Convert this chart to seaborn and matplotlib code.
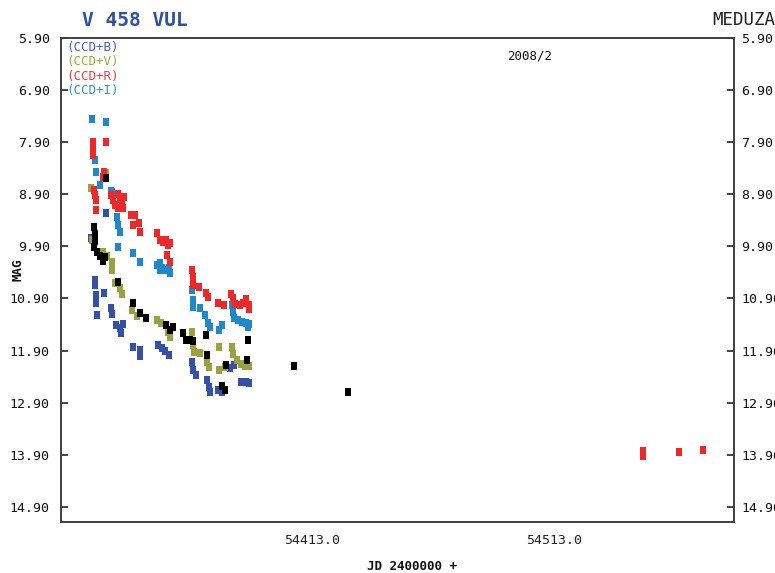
import matplotlib
matplotlib.use("Agg")
import matplotlib.pyplot as plt
import matplotlib.transforms as mtransforms
import numpy as np
import pandas as pd
import seaborn as sns

# V 458 Vul photometry (JD, magnitude) by filter
jd_b = [54332.8, 54326.6, 54328.2, 54328.2, 54328.7, 54328.7, 54332.0, 54329.1,
        54334.9, 54335.3, 54336.9, 54338.6, 54339.8, 54339.0, 54344.0, 54346.8,
        54346.8, 54354.3, 54355.9, 54357.2, 54358.8, 54368.3, 54368.7, 54370.0,
        54374.5, 54375.4, 54375.8, 54379.1, 54380.7, 54384.0, 54385.7, 54388.6,
        54390.6, 54391.9]
mag_b = [9.26, 9.74, 10.54, 10.64, 10.83, 10.99, 10.79, 11.22,
         11.08, 11.20, 11.41, 11.47, 11.39, 11.56, 11.83, 11.89,
         12.00, 11.79, 11.85, 11.91, 11.98, 12.12, 12.27, 12.37,
         12.46, 12.60, 12.69, 12.66, 12.69, 12.23, 12.18, 12.50,
         12.50, 12.52]

jd_v = [54332.8, 54326.6, 54327.0, 54331.6, 54333.2, 54335.3, 54335.3, 54336.5,
        54338.6, 54339.4, 54343.5, 54345.6, 54353.9, 54355.5, 54358.4, 54359.2,
        54368.3, 54368.7, 54369.2, 54371.6, 54374.5, 54375.4, 54379.5, 54379.5,
        54382.0, 54384.9, 54385.3, 54386.9, 54388.6, 54390.2, 54391.9]
mag_v = [8.49, 8.78, 9.78, 10.01, 10.08, 10.20, 10.35, 10.60,
         10.70, 10.81, 11.12, 11.24, 11.31, 11.37, 11.54, 11.64,
         11.54, 11.79, 11.93, 11.95, 12.12, 12.21, 11.83, 12.27,
         12.21, 11.83, 11.97, 12.08, 12.16, 12.20, 12.20]

jd_r = [54327.4, 54327.4, 54327.4, 54332.8, 54332.0, 54331.6, 54327.8, 54328.2,
        54328.7, 54328.7, 54334.9, 54335.7, 54336.5, 54337.8, 54338.6, 54339.4,
        54340.2, 54337.8, 54339.8, 54343.1, 54344.8, 54344.0, 54346.4, 54346.8,
        54353.9, 54355.1, 54356.3, 54357.6, 54358.4, 54359.2, 54358.0, 54359.2,
        54368.3, 54368.7, 54368.7, 54371.2, 54374.1, 54374.9, 54379.1, 54381.6,
        54384.4, 54385.3, 54386.1, 54388.2, 54389.4, 54390.6, 54391.9, 54391.9,
        54554.7, 54554.7, 54569.6, 54579.5]
mag_r = [7.90, 8.01, 8.15, 7.90, 8.47, 8.57, 8.82, 8.91,
         9.01, 9.20, 8.91, 9.01, 9.11, 8.89, 8.99, 9.09,
         8.95, 9.16, 9.16, 9.30, 9.30, 9.49, 9.45, 9.62,
         9.64, 9.78, 9.82, 9.78, 9.87, 9.83, 10.07, 10.20,
         10.35, 10.49, 10.64, 10.68, 10.79, 10.87, 10.99, 11.02,
         10.81, 10.89, 11.01, 11.02, 10.99, 10.91, 11.02, 11.10,
         13.83, 13.92, 13.85, 13.81]

jd_i = [54327.0, 54332.8, 54328.2, 54328.7, 54330.3, 54334.9, 54335.3, 54337.3,
        54337.8, 54338.6, 54337.8, 54344.0, 54346.8, 54353.9, 54355.1, 54355.9,
        54357.6, 54358.8, 54355.1, 54359.2, 54368.3, 54368.7, 54368.7, 54371.6,
        54373.7, 54374.9, 54375.8, 54379.5, 54380.7, 54384.9, 54385.3, 54385.7,
        54387.3, 54389.0, 54390.6, 54391.9, 54391.5]
mag_i = [7.45, 7.51, 8.24, 8.47, 8.72, 8.84, 8.86, 9.34,
         9.49, 9.62, 9.91, 10.03, 10.20, 10.26, 10.22, 10.31,
         10.35, 10.31, 10.35, 10.41, 10.74, 10.93, 11.06, 11.08,
         11.22, 11.37, 11.45, 11.50, 11.41, 11.02, 11.16, 11.27,
         11.31, 11.35, 11.37, 11.39, 11.45]

jd_vis = [54332.8, 54327.8, 54328.2, 54328.2, 54327.8, 54329.1, 54330.3, 54331.6,
          54332.4, 54337.8, 54344.0, 54346.8, 54349.3, 54357.6, 54359.2, 54360.5,
          54364.6, 54365.9, 54367.5, 54368.7, 54374.1, 54374.5, 54382.4, 54380.7,
          54382.0, 54391.5, 54391.1, 54410.5, 54432.8]
mag_vis = [8.59, 9.53, 9.66, 9.80, 9.91, 10.01, 10.09, 10.18,
           10.10, 10.58, 10.99, 11.18, 11.27, 11.41, 11.50, 11.45,
           11.56, 11.70, 11.70, 11.72, 11.60, 11.98, 12.18, 12.58,
           12.66, 11.70, 12.08, 12.20, 12.69]

legend_labels = ["(CCD+B)", "(CCD+V)", "(CCD+R)", "(CCD+I)"]
legend_colors = ["#3F5FC8", "#9AAA33", "#F03A3A", "#2A90D8"]
y_ticks = [5.90, 6.90, 7.90, 8.90, 9.90, 10.90, 11.90, 12.90, 13.90, 14.90]
x_ticks = [54413.0, 54513.0]

frames = []
for name, jd, mag in [("B", jd_b, mag_b), ("V", jd_v, mag_v), ("I", jd_i, mag_i),
                      ("R", jd_r, mag_r), ("Vis", jd_vis, mag_vis)]:
    frames.append(pd.DataFrame({"jd": jd, "mag": mag, "band": name}))
df = pd.concat(frames, ignore_index=True)

palette = {"B": "#3550A8", "V": "#99A23E", "I": "#1F88CC", "R": "#EE2828", "Vis": "#000000"}

sns.set_style("white")
mono = ["DejaVu Sans Mono", "DejaVu Sans"]
plt.rcParams["font.family"] = mono

fig = plt.figure(figsize=(7.75, 5.73), dpi=100)
ax = fig.add_axes([61 / 775, 1 - 522 / 573, (734 - 61) / 775, (522 - 38) / 573])

# slightly tall rectangular plot symbol
rect = [(-0.75, -1.0), (0.75, -1.0), (0.75, 1.0), (-0.75, 1.0), (-0.75, -1.0)]
sns.scatterplot(data=df, x="jd", y="mag", hue="band", palette=palette,
                marker=rect, s=34, linewidth=0, legend=False, ax=ax)

ax.set_xlim(54314.2, 54592.3)
ax.set_ylim(15.19, 5.90)
ax.set_yticks(y_ticks)
ax.set_yticklabels([f"{v:.2f}" for v in y_ticks])
ax.set_xticks(x_ticks)
ax.set_xticklabels([f"{v:.1f}" for v in x_ticks])
ax.tick_params(axis="y", which="both", direction="in", length=5, width=1.2,
               left=True, right=True, labelleft=True, labelright=True,
               labelsize=9.5, colors="#222222", pad=8)
ax.tick_params(axis="x", direction="in", length=6, width=1.2,
               labelsize=9.5, colors="#222222", pad=9)
for lbl in ax.get_yticklabels(which="both"):
    lbl.set_color("#111111")
# right-hand labels sit closer to the frame
for t in ax.yaxis.get_major_ticks():
    t.label2.set_transform(t.label2.get_transform() +
                           mtransforms.ScaledTranslation(-4 / 100, 0, fig.dpi_scale_trans))
for lbl in ax.get_xticklabels():
    lbl.set_transform(lbl.get_transform() +
                      mtransforms.ScaledTranslation(12 / 100, 0, fig.dpi_scale_trans))

for sp in ax.spines.values():
    sp.set_color("#404040")
    sp.set_linewidth(1.4)

ax.set_xlabel("")
ax.set_ylabel("")
fig.text(412 / 775, 1 - 566 / 573, "JD 2400000 +", ha="center", va="center",
         fontsize=9, fontweight="bold", color="#111111")
fig.text(18 / 775, 1 - 270 / 573, "MAG", ha="center", va="center", rotation=90,
         fontsize=9, fontweight="bold", color="#111111")

fig.text(82 / 775, 1 - 20 / 573, "V 458 VUL", ha="left", va="center",
         fontsize=14, fontweight="bold", color="#3050A8")
fig.text(775 / 775, 1 - 20 / 573, "MEDUZA", ha="right", va="center",
         fontsize=12.5, color="#222222")
fig.text(530 / 775, 1 - 56 / 573, "2008/2", ha="center", va="center",
         fontsize=9, color="#111111")

for k, (lab, col) in enumerate(zip(legend_labels, legend_colors)):
    fig.text(66 / 775, 1 - (48 + 14 * k) / 573, lab, ha="left", va="center",
             fontsize=9, color=col)

fig.savefig("out.png", dpi=100)
